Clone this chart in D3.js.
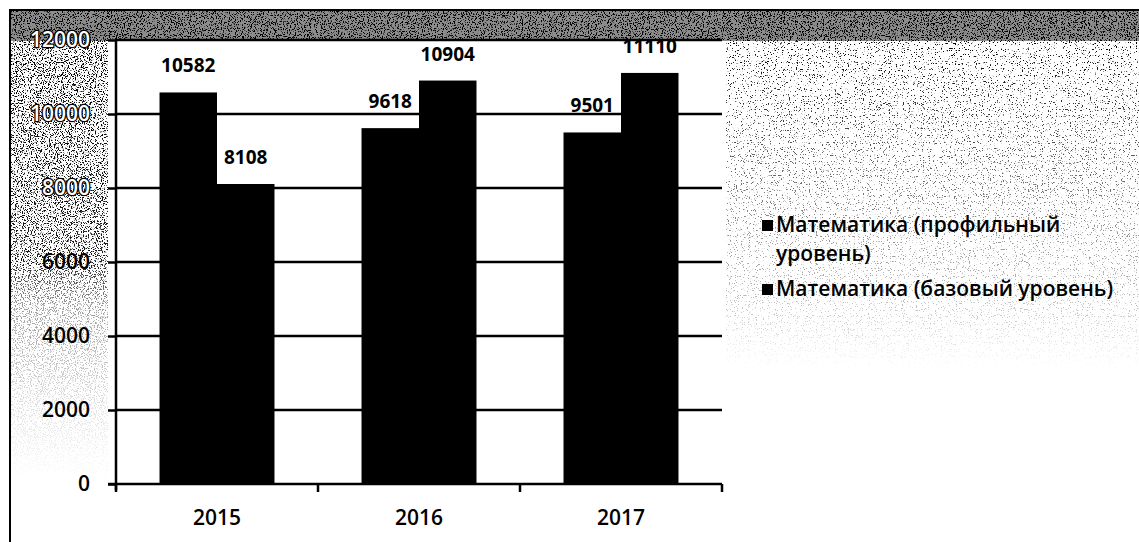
<!DOCTYPE html><html lang="ru"><head><meta charset="UTF-8"><title>Математика 2015-2017</title><script src="https://d3js.org/d3.v7.min.js"></script><style>
    body { margin: 0; background: #fff; }
    svg { display: block; }
    .lbl { font-family: "Open Sans", "Noto Sans", sans-serif; font-weight: 700; font-size: 19px; fill: #000; }
    .tick text { font-family: "Open Sans", "Noto Sans", sans-serif; font-weight: 600; font-size: 21px; fill: #000; }
    .leg { font-family: "Open Sans", "Noto Sans", sans-serif; font-weight: 600; font-size: 21px; fill: #000; }
</style></head><body><svg id="chart"></svg><script>
// data
const years = ["2015", "2016", "2017"];
const seriesNames = ["Математика (профильный уровень)", "Математика (базовый уровень)"];
const profil = [10582, 9618, 9501];
const bazov = [8108, 10904, 11110];
const yTicks = [0, 2000, 4000, 6000, 8000, 10000, 12000];

const W = 1139, H = 542;
const m = { left: 116, right: 722, top: 40, bottom: 484 };

const svg = d3.select("#chart").attr("width", W).attr("height", H);

// scanned-paper speckle
const defs = svg.append("defs");
function speck(id, seed, bias) {
    const f = defs.append("filter").attr("id", id).attr("x", 0).attr("y", 0).attr("width", 1).attr("height", 1);
    f.append("feTurbulence").attr("type", "fractalNoise").attr("baseFrequency", 0.85).attr("numOctaves", 3).attr("seed", seed);
    f.append("feColorMatrix").attr("type", "matrix")
        .attr("values", `0 0 0 0 0  0 0 0 0 0  0 0 0 0 0  12 0 0 0 ${bias}`);
}
speck("speckDark", 3, -6.5);
speck("speckMid", 11, -7.6);

function grad(id, stops) {
    const g = defs.append("linearGradient").attr("id", id)
        .attr("x1", 0).attr("y1", 0).attr("x2", 0).attr("y2", 1);
    stops.forEach(s => g.append("stop").attr("offset", s[0]).attr("stop-color", "#fff").attr("stop-opacity", s[1]));
    const mk = defs.append("mask").attr("id", id + "M").attr("maskContentUnits", "objectBoundingBox");
    mk.append("rect").attr("width", 1).attr("height", 1).attr("fill", `url(#${id})`);
}
grad("gLeft", [[0, 1], [0.5, 0.9], [0.6, 0.4], [0.8, 0.15], [1, 0]]);
grad("gRight", [[0, 1], [0.2, 0.8], [0.5, 0.5], [0.8, 0.25], [1, 0]]);

const noise = svg.append("g");
noise.append("rect").attr("x", 10).attr("y", 10).attr("width", W - 10).attr("height", 31)
    .attr("fill", "#000").attr("opacity", 0.45);
noise.append("rect").attr("x", 10).attr("y", 10).attr("width", W - 10).attr("height", 31)
    .attr("filter", "url(#speckDark)");
noise.append("rect").attr("x", 10).attr("y", 41).attr("width", 98).attr("height", 440)
    .attr("filter", "url(#speckDark)").attr("mask", "url(#gLeftM)");
noise.append("rect").attr("x", m.right + 4).attr("y", 41).attr("width", W - m.right - 4).attr("height", 330)
    .attr("filter", "url(#speckMid)").attr("mask", "url(#gRightM)");

// frame
svg.append("path").attr("d", `M10,${H}V10H${W}`).attr("fill", "none").attr("stroke", "#000").attr("stroke-width", 2);

// plot area
svg.append("rect").attr("x", m.left).attr("y", m.top).attr("width", m.right - m.left).attr("height", m.bottom - m.top)
    .attr("fill", "#fff");

const y = d3.scaleLinear().domain([0, 12000]).range([m.bottom, m.top]);
const x0 = d3.scaleBand().domain(years).range([m.left, m.right]);
const x1 = d3.scaleBand().domain([0, 1]).range([0, x0.bandwidth()]).paddingInner(0).paddingOuter(0.757);

// gridlines
svg.append("g").selectAll("line").data(yTicks.slice(1)).join("line")
    .attr("x1", m.left).attr("x2", m.right)
    .attr("y1", d => y(d)).attr("y2", d => y(d))
    .attr("stroke", "#000").attr("stroke-width", 2.5);

// bars
const rows = years.map((yr, i) => ({ yr, vals: [profil[i], bazov[i]] }));
const grp = svg.append("g").selectAll("g").data(rows).join("g")
    .attr("transform", d => `translate(${x0(d.yr)},0)`);
grp.selectAll("rect").data(d => d.vals).join("rect")
    .attr("x", (d, i) => x1(i)).attr("width", x1.bandwidth())
    .attr("y", d => y(d)).attr("height", d => y(0) - y(d))
    .attr("fill", "#000");
grp.selectAll("text").data(d => d.vals).join("text")
    .attr("class", "lbl")
    .attr("x", (d, i) => x1(i) + x1.bandwidth() / 2)
    .attr("y", d => y(d) - 20)
    .attr("text-anchor", "middle")
    .text(d => d);

// axes
const yAxis = svg.append("g").attr("transform", `translate(${m.left},0)`)
    .call(d3.axisLeft(y).tickValues(yTicks).tickSize(8).tickPadding(18).tickFormat(d3.format("d")));
yAxis.select(".domain").attr("stroke-width", 2.5).attr("d", `M0,${m.top}V${m.bottom + 6}`);
yAxis.selectAll(".tick line").attr("stroke-width", 2.5);
// labels sitting on the dark speckle read as outlined
yAxis.selectAll(".tick text").filter(d => d >= 8000)
    .style("fill", "#fff").style("paint-order", "stroke")
    .attr("stroke", "#000").attr("stroke-width", 2.6);

const xAxis = svg.append("g").attr("transform", `translate(0,${m.bottom})`)
    .call(d3.axisBottom(x0).tickSize(0).tickPadding(26));
xAxis.select(".domain").attr("stroke-width", 2.5).attr("d", `M${m.left - 8},0H${m.right}`);
xAxis.append("g").selectAll("line").data(d3.range(years.length + 1)).join("line")
    .attr("x1", i => m.left + i * x0.step()).attr("x2", i => m.left + i * x0.step())
    .attr("y1", 0).attr("y2", 8).attr("stroke", "#000").attr("stroke-width", 2.5);

// legend
const leg = svg.append("g").attr("transform", "translate(762,0)");
const legRows = [
    { lines: ["Математика (профильный", "уровень)"], y: 232 },
    { lines: ["Математика (базовый уровень)"], y: 296 }
];
legRows.forEach(r => {
    leg.append("rect").attr("x", 0).attr("y", r.y - 12).attr("width", 11).attr("height", 11).attr("fill", "#000");
    const t = leg.append("text").attr("class", "leg").attr("x", 14).attr("y", r.y);
    r.lines.forEach((ln, k) => t.append("tspan").attr("x", 14).attr("dy", k ? 29 : 0).text(ln));
});
</script></body></html>
